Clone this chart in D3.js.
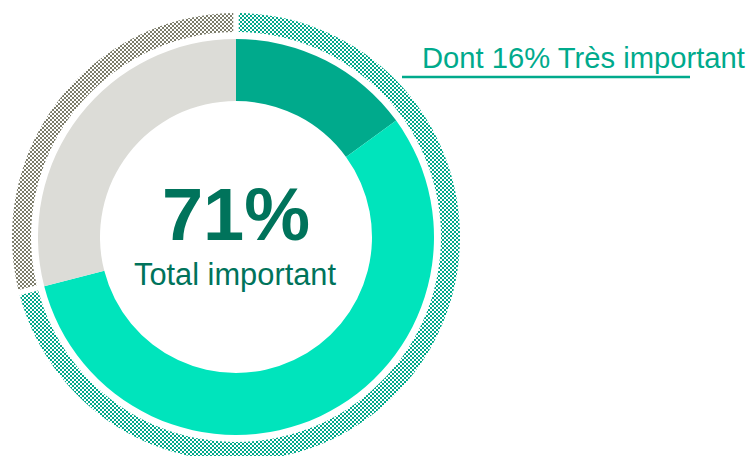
<!DOCTYPE html>
<html lang="fr">
<head>
    <meta charset="UTF-8">
    <title>Total important</title>
    <script src="https://cdn.jsdelivr.net/npm/d3@7"></script>
    <style>
        body { margin: 0; background: #fff; }
        text { font-family: "Liberation Sans", Arial, sans-serif; }
    </style>
</head>
<body>
<script>
    // donut interieur : detail des reponses
    const innerLabels = ['Très important', 'Plutôt important', 'Pas important']
    const innerValues = [15, 56, 29]
    const innerColors = ['#00aa8c', '#00e4bc', '#dcdcd7']

    // anneau exterieur : total important / reste
    const outerLabels = ['Total important', 'Reste']
    const outerValues = [71, 29]
    const outerPatterns = ['hatch-green', 'hatch-grey']

    const centerValue = '71%'
    const centerLabel = 'Total important'
    const calloutLabel = 'Dont 16% Très important'

    const [width, height] = [752, 456]
    const [cx, cy] = [236, 237]

    const svg = d3.select('body').append('svg')
        .attr('width', width)
        .attr('height', height)

    // motifs en damier pour l'anneau exterieur
    const defs = svg.append('defs')
    const addChecker = (id, color) => {
        const p = defs.append('pattern')
            .attr('id', id)
            .attr('width', 4).attr('height', 4)
            .attr('patternUnits', 'userSpaceOnUse')
        p.append('rect').attr('width', 4).attr('height', 4).attr('fill', '#fff')
        p.append('rect').attr('width', 2).attr('height', 2).attr('fill', color)
        p.append('rect').attr('x', 2).attr('y', 2).attr('width', 2).attr('height', 2).attr('fill', color)
    }
    addChecker('hatch-green', '#00a88a')
    addChecker('hatch-grey', '#7c7c6a')

    const g = svg.append('g').attr('transform', `translate(${cx},${cy})`)

    const pie = d3.pie().sort(null).value(d => d)

    const innerArc = d3.arc().innerRadius(136).outerRadius(198)
    g.selectAll('path.inner').data(pie(innerValues)).enter()
        .append('path').attr('class', 'inner')
        .attr('d', innerArc)
        .attr('fill', (d, i) => innerColors[i])

    const outerArc = d3.arc().innerRadius(205).outerRadius(224).padAngle(0.018)
    g.selectAll('path.outer').data(pie(outerValues)).enter()
        .append('path').attr('class', 'outer')
        .attr('d', outerArc)
        .attr('fill', (d, i) => `url(#${outerPatterns[i]})`)

    // texte central
    g.append('text')
        .attr('text-anchor', 'middle')
        .attr('y', 3)
        .attr('font-size', 74)
        .attr('font-weight', 'bold')
        .attr('fill', '#00735b')
        .text(centerValue)
    g.append('text')
        .attr('text-anchor', 'middle')
        .attr('x', -1)
        .attr('y', 48)
        .attr('font-size', 30.8)
        .attr('fill', '#00735b')
        .text(centerLabel)

    // etiquette avec soulignement
    svg.append('line')
        .attr('x1', 402).attr('x2', 690)
        .attr('y1', 77).attr('y2', 77)
        .attr('stroke', '#00aa8c')
        .attr('stroke-width', 2.5)
    svg.append('text')
        .attr('x', 422).attr('y', 68)
        .attr('font-size', 29.2)
        .attr('fill', '#00aa8c')
        .text(calloutLabel)
</script>
</body>
</html>
